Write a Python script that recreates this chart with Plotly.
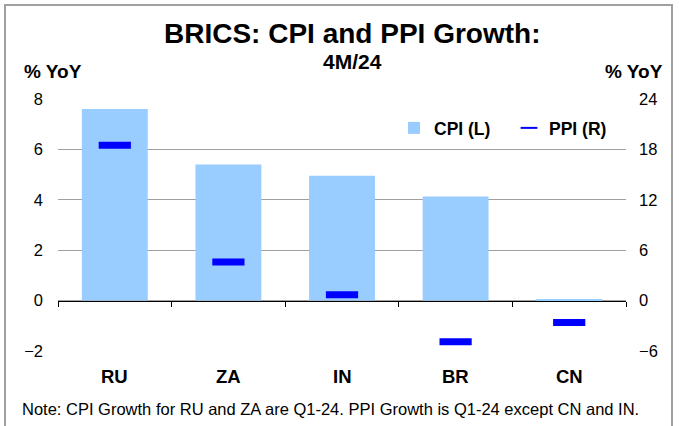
import plotly.graph_objects as go

categories = ["RU", "ZA", "IN", "BR", "CN"]
cpi_values = [7.6, 5.4, 4.95, 4.13, 0.05]
ppi_values = [18.5, 4.6, 0.7, -4.9, -2.6]
left_ticks = [-2, 0, 2, 4, 6, 8]
right_ticks = [-6, 0, 6, 12, 18, 24]

FONT = "Liberation Sans, Arial, sans-serif"
W, H = 679, 426
ML, MR, MT, MB = 58, 53, 99, 75
pw, ph = W - ML - MR, H - MT - MB

def px_x(px):
    return (px - ML) / pw

def px_y(py):
    return (H - MB - py) / ph

ymin, ymax = left_ticks[0], left_ticks[-1]
zero_pos = (0 - ymin) / (ymax - ymin)

fig = go.Figure()
fig.add_trace(go.Bar(
    x=categories, y=cpi_values, name="CPI (L)",
    marker=dict(color="#99CCFF", line=dict(width=0)),
    width=0.58, yaxis="y", xaxis="x",
))
fig.add_trace(go.Scatter(
    x=categories, y=ppi_values, name="PPI (R)", mode="markers",
    marker=dict(symbol="line-ew", size=23, color="#0000FF",
                line=dict(color="#0000FF", width=7)),
    yaxis="y2", xaxis="x",
))

cat_annotations = [
    dict(text="<b>%s</b>" % c, xref="x", yref="paper", x=c, y=px_y(376),
         xanchor="center", yanchor="middle", showarrow=False,
         font=dict(size=18.5, family=FONT))
    for c in categories
]

fig.update_layout(
    width=W, height=H,
    margin=dict(l=ML, r=MR, t=MT, b=MB),
    paper_bgcolor="white", plot_bgcolor="white",
    font=dict(family=FONT, color="black", size=16),
    showlegend=True,
    legend=dict(orientation="h", x=px_x(394), y=px_y(128), xanchor="left", yanchor="middle",
                font=dict(size=17.5, family=FONT, weight="bold"), bgcolor="rgba(0,0,0,0)",
                itemsizing="constant", entrywidth=70, entrywidthmode="pixels"),
    xaxis=dict(
        type="category", range=[-0.5, len(categories) - 0.5],
        anchor="free", position=zero_pos,
        showline=True, linecolor="black", linewidth=1,
        ticks="outside", tickson="boundaries", ticklen=5, tickcolor="black",
        showticklabels=False, showgrid=False, zeroline=False,
    ),
    yaxis=dict(
        range=[ymin, ymax], tickmode="array", tickvals=left_ticks,
        showgrid=True, gridcolor="#A0A0A0", gridwidth=1, zeroline=False,
        showline=False, ticks="", tickfont=dict(size=16.5), ticklabelstandoff=14,
    ),
    yaxis2=dict(
        range=[right_ticks[0], right_ticks[-1]], tickmode="array", tickvals=right_ticks,
        overlaying="y", side="right", showgrid=False, zeroline=False,
        showline=False, ticks="", tickfont=dict(size=16.5), ticklabelstandoff=12,
    ),
    shapes=[dict(type="rect", xref="paper", yref="paper",
                 x0=px_x(5), x1=px_x(672), y0=px_y(440), y1=px_y(5),
                 line=dict(color="#A0A0A0", width=2), layer="below")],
    annotations=[
        dict(text="<b>BRICS: CPI and PPI Growth:</b>", xref="paper", yref="paper",
             x=px_x(352), y=px_y(33), xanchor="center", yanchor="middle",
             showarrow=False, font=dict(size=28, family=FONT)),
        dict(text="<b>4M/24</b>", xref="paper", yref="paper",
             x=px_x(352), y=px_y(61), xanchor="center", yanchor="middle",
             showarrow=False, font=dict(size=21, family=FONT)),
        dict(text="<b>% YoY</b>", xref="paper", yref="paper",
             x=px_x(22), y=px_y(72), xanchor="left", yanchor="middle",
             showarrow=False, font=dict(size=19, family=FONT)),
        dict(text="<b>% YoY</b>", xref="paper", yref="paper",
             x=px_x(665), y=px_y(72), xanchor="right", yanchor="middle",
             showarrow=False, font=dict(size=19, family=FONT)),
        dict(text="Note: CPI Growth for RU and ZA are Q1-24. PPI Growth is Q1-24 except CN and IN.",
             xref="paper", yref="paper", x=px_x(20), y=px_y(409), xanchor="left", yanchor="middle",
             showarrow=False, font=dict(size=16.5, family=FONT)),
    ] + cat_annotations,
)

fig.write_html("out.html", config={"displayModeBar": False},
               post_script="document.body.style.margin='0px';")
